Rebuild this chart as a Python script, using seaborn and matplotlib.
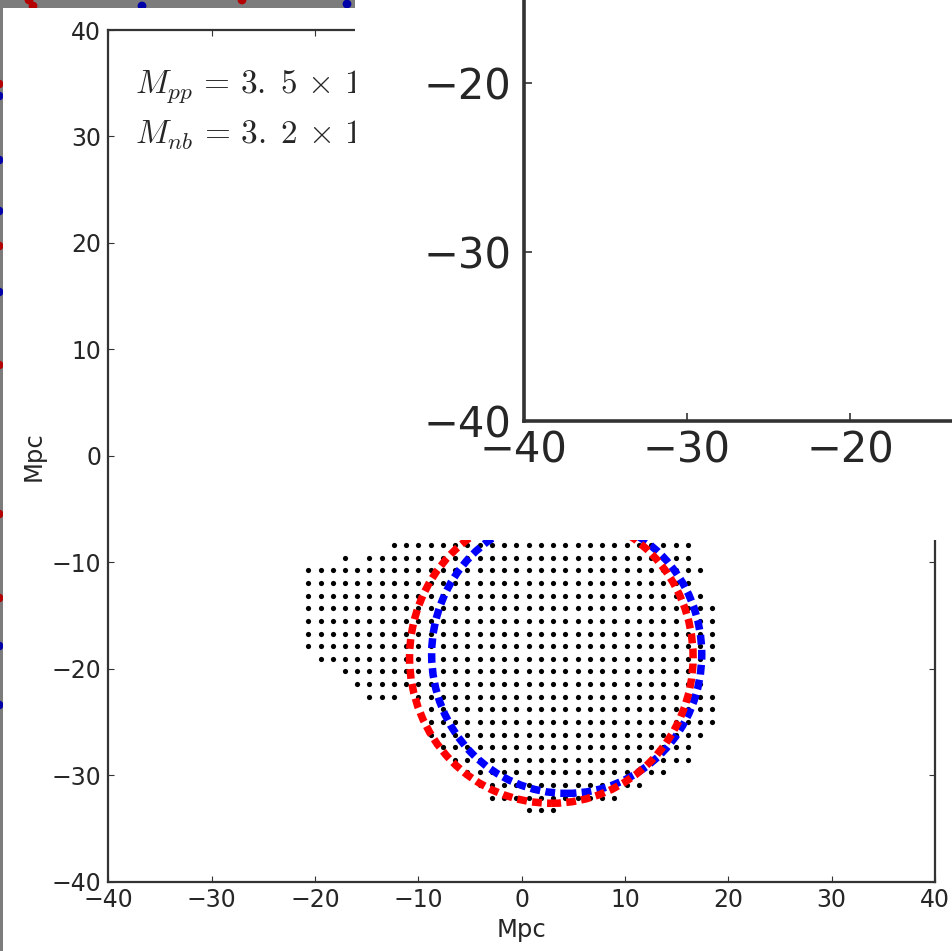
import numpy as np
import pandas as pd
import matplotlib
matplotlib.use("Agg")
import matplotlib.pyplot as plt
from matplotlib.patches import Circle
import seaborn as sns

# ---------------- data ----------------
# regular grid of particles (Mpc): origin of column 0 / row 0 and spacing
grid_x0, grid_dx = -20.65, 1.185
grid_y0, grid_dy = -8.40, -1.186
# occupied column ranges (inclusive) for each row, top row first
row_segments = [
    [(7, 31)],
    [(3, 3), (5, 31)],
    [(0, 32)],
    [(0, 31)],
    [(0, 32)],
    [(0, 33)],
    [(0, 33)],
    [(0, 33)],
    [(0, 33)],
    [(1, 33)],
    [(3, 32)],
    [(4, 32)],
    [(5, 7), (9, 33)],
    [(10, 33)],
    [(10, 33)],
    [(10, 32)],
    [(11, 31)],
    [(12, 31)],
    [(13, 29)],
    [(14, 27)],
    [(15, 25)],
    [(18, 20)],
]

# boundary circles (centre x, centre y, radius) in Mpc
circle_names = ["pp", "nb"]
circle_cx = [2.87, 4.36]
circle_cy = [-18.93, -18.65]
circle_r = [13.72, 13.07]
circle_colors = ["red", "blue"]

mass_labels = [r"$M_{pp}\,=\,3.\;5\,\times\,10^{14}\,M_{\odot}$",
               r"$M_{nb}\,=\,3.\;2\,\times\,10^{14}\,M_{\odot}$"]

main_ticks = [-40, -30, -20, -10, 0, 10, 20, 30, 40]
axis_label = "Mpc"

# bits of an underlying window peeking out at the grey frame (pixel coords)
under_x = [29, 33, 142, 242, 347, -1, -1, -1, -1, -1, -1, -1, -1, -1, -1, -1]
under_y = [0, 6, 6, 0, 4, 84, 96, 160, 211, 246, 292, 365, 514, 598, 646, 705]
under_c = ["r", "r", "b", "r", "b", "r", "b", "b", "b", "r", "b", "r", "r", "r", "b", "b"]

# ---------------- build table ----------------
xs, ys = [], []
for r, segs in enumerate(row_segments):
    for a, b in segs:
        for k in range(a, b + 1):
            xs.append(grid_x0 + k * grid_dx)
            ys.append(grid_y0 + r * grid_dy)
particles = pd.DataFrame({"x": xs, "y": ys})
under = pd.DataFrame({"x": under_x, "y": under_y, "c": under_c})

# ---------------- style ----------------
sns.set_style("ticks")
plt.rcParams["font.family"] = ["DejaVu Sans"]
plt.rcParams["mathtext.fontset"] = "cm"
ink = "#262626"
spine_c = "#333333"

W, H = 952, 951
fig = plt.figure(figsize=(W / 100, H / 100), dpi=100, facecolor="#7c7c7c")

def rect(x0, y0, x1, y1):
    return [x0 / W, 1 - y1 / H, (x1 - x0) / W, (y1 - y0) / H]

def minus(t):
    return f"{t}".replace("-", "\u2212")

# underlying grey window with a few stray points
ax_bg = fig.add_axes([0, 0, 1, 1], zorder=-3)
ax_bg.set_facecolor("#7c7c7c")
sns.scatterplot(data=under, x="x", y="y", hue="c",
                palette={"r": "#b40000", "b": "#0000a8"},
                s=40, linewidth=0, legend=False, ax=ax_bg)
ax_bg.set_xlim(0, W)
ax_bg.set_ylim(H, 0)
ax_bg.axis("off")

# white window
ax_win = fig.add_axes(rect(3, 8, W, H), zorder=-2)
ax_win.set_facecolor("white")
ax_win.set_xticks([]); ax_win.set_yticks([])
for s in ax_win.spines.values():
    s.set_visible(False)

# ---------------- main axes ----------------
ax = fig.add_axes(rect(108.3, 30, 935, 881.5), zorder=0)
ax.set_facecolor("white")
sns.scatterplot(data=particles, x="x", y="y", color="black", s=14,
                linewidth=0, ax=ax, zorder=2)
# blue first, red on top
for i in [1, 0]:
    ax.add_patch(Circle((circle_cx[i], circle_cy[i]), circle_r[i], fill=False,
                        ec=circle_colors[i], lw=5.4, linestyle=(0, (1.3, 0.7)),
                        zorder=3))
ax.set_xlim(-40, 40)
ax.set_ylim(-40, 40)
ax.set_xticks(main_ticks)
ax.set_yticks(main_ticks)
ax.set_xticklabels([minus(t) for t in main_ticks])
ax.set_yticklabels([minus(t) for t in main_ticks])
ax.tick_params(direction="in", length=4, width=0.8, colors=spine_c,
               labelcolor=ink, labelsize=17, top=True, right=True)
ax.tick_params(axis="x", pad=5)
ax.tick_params(axis="y", pad=5)
for s in ax.spines.values():
    s.set_linewidth(1.6)
    s.set_color(spine_c)
ax.set_xlabel(axis_label, fontsize=17.5, color=ink, labelpad=4)
ax.set_ylabel(axis_label, fontsize=17.5, color=ink, labelpad=4)
ax.text(-37.4, 34.05, mass_labels[0], fontsize=24, color=ink, va="baseline")
ax.text(-37.4, 29.3, mass_labels[1], fontsize=24, color=ink, va="baseline")

# ---------------- pasted, enlarged panel ----------------
ax_cover = fig.add_axes(rect(355, 0, W, 540), zorder=1)
ax_cover.set_facecolor("white")
ax_cover.set_xticks([]); ax_cover.set_yticks([])
for s in ax_cover.spines.values():
    s.set_visible(False)

x_px_per = 16.3
y_px_per = 16.9
ax_in = fig.add_axes(rect(524, 421 - 80 * y_px_per, 524 + 80 * x_px_per, 421), zorder=2)
ax_in.set_facecolor("white")
ax_in.set_xlim(-40, 40)
ax_in.set_ylim(-40, 40)
ax_in.set_xticks(main_ticks)
ax_in.set_yticks(main_ticks)
ax_in.set_xticklabels([minus(t) for t in main_ticks])
ax_in.set_yticklabels([minus(t) for t in main_ticks])
ax_in.tick_params(direction="in", length=6, width=1.2, colors=spine_c,
                  labelcolor=ink, labelsize=30)
ax_in.tick_params(axis="x", pad=6)
ax_in.tick_params(axis="y", pad=9)
for s in ax_in.spines.values():
    s.set_linewidth(2.6)
    s.set_color(spine_c)

fig.savefig("out.png", dpi=100, facecolor=fig.get_facecolor())
